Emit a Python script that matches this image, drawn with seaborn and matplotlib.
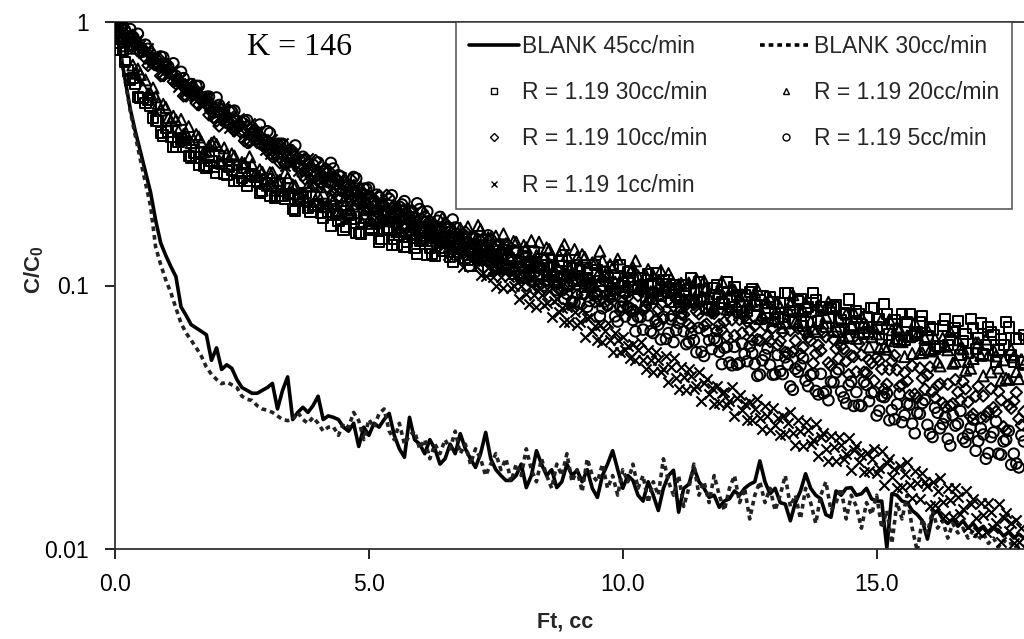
import numpy as np
import pandas as pd
import matplotlib
matplotlib.use("Agg")
import matplotlib.pyplot as plt
from matplotlib.lines import Line2D
from matplotlib.ticker import NullLocator, FixedLocator, FixedFormatter
import seaborn as sns

# ---------------- data ----------------
# Each "_a" list is read at Ft = 0.0, 0.1, 0.2 ...; each "_b" list at
# Ft = 0.05, 0.15, 0.25 ...; r1 is read every 0.05 from Ft = 0.
STEP = 0.1
HALF = 0.05

blank45 = [
    1.0, 0.776, 0.60, 0.468, 0.385, 0.323, 0.27, 0.226, 0.177, 0.145,
    0.13, 0.118, 0.108, 0.083, 0.077, 0.071, 0.069, 0.067, 0.065, 0.052,
    0.058, 0.048, 0.05, 0.0485, 0.044, 0.041, 0.040, 0.039, 0.039, 0.040,
    0.041, 0.0425, 0.034, 0.040, 0.045, 0.031, 0.033, 0.0345, 0.033, 0.035,
    0.038, 0.031, 0.032, 0.0316, 0.031, 0.029, 0.028, 0.030, 0.0245, 0.029,
    0.027, 0.030, 0.029, 0.031, 0.0327, 0.027, 0.024, 0.0223, 0.0316, 0.026,
    0.025, 0.023, 0.026, 0.024, 0.021, 0.022, 0.025, 0.023, 0.0274, 0.024,
    0.022, 0.0204, 0.023, 0.0277, 0.022, 0.020, 0.019, 0.0182, 0.0182, 0.019,
    0.021, 0.0171, 0.019, 0.0236, 0.021, 0.019, 0.020, 0.0171, 0.018, 0.021,
    0.019, 0.0199, 0.018, 0.020, 0.017, 0.0157, 0.019, 0.021, 0.0236, 0.020,
    0.017, 0.019, 0.0182, 0.016, 0.0152, 0.018, 0.016, 0.014, 0.017, 0.019,
    0.0199, 0.0138, 0.017, 0.0176, 0.0204, 0.018, 0.017, 0.0157, 0.016, 0.0144,
    0.0152, 0.0155, 0.0166, 0.016, 0.017, 0.0176, 0.018, 0.0216, 0.018, 0.0162,
    0.017, 0.015, 0.0148, 0.0128, 0.015, 0.0166, 0.0193, 0.017, 0.016, 0.0155,
    0.0135, 0.0132, 0.0166, 0.016, 0.017, 0.0171, 0.016, 0.0162, 0.017, 0.0155,
    0.0152, 0.0152, 0.0101, 0.0162, 0.016, 0.0152, 0.015, 0.014, 0.0135, 0.0128,
    0.0109, 0.0135, 0.014, 0.013, 0.0125, 0.013, 0.0122, 0.0128, 0.012, 0.0125,
    0.0118, 0.0122, 0.0115, 0.012, 0.0118, 0.0112, 0.0116, 0.011, 0.0114, 0.011,
]

blank30 = [
    1.0, 0.78, 0.60, 0.46, 0.37, 0.30, 0.245, 0.20, 0.14, 0.12,
    0.105, 0.094, 0.082, 0.072, 0.066, 0.062, 0.058, 0.054, 0.049, 0.046,
    0.044, 0.0424, 0.043, 0.042, 0.041, 0.038, 0.037, 0.0366, 0.035, 0.034,
    0.0336, 0.033, 0.032, 0.031, 0.0307, 0.031, 0.033, 0.031, 0.030, 0.0316,
    0.030, 0.028, 0.029, 0.0291, 0.027, 0.030, 0.029, 0.033, 0.0307, 0.026,
    0.031, 0.029, 0.0326, 0.034, 0.028, 0.026, 0.030, 0.025, 0.027, 0.028,
    0.024, 0.026, 0.022, 0.025, 0.023, 0.026, 0.024, 0.028, 0.023, 0.025,
    0.021, 0.024, 0.022, 0.019, 0.021, 0.023, 0.020, 0.022, 0.018, 0.021,
    0.019, 0.024, 0.020, 0.018, 0.022, 0.019, 0.017, 0.021, 0.019, 0.023,
    0.018, 0.020, 0.0165, 0.022, 0.019, 0.018, 0.021, 0.017, 0.019, 0.016,
    0.020, 0.018, 0.021, 0.017, 0.019, 0.015, 0.018, 0.016, 0.022, 0.018,
    0.016, 0.019, 0.0145, 0.017, 0.021, 0.016, 0.018, 0.015, 0.019, 0.016,
    0.014, 0.017, 0.019, 0.015, 0.017, 0.013, 0.016, 0.018, 0.015, 0.017,
    0.014, 0.016, 0.019, 0.0145, 0.016, 0.013, 0.017, 0.015, 0.0125, 0.016,
    0.018, 0.014, 0.015, 0.017, 0.013, 0.016, 0.0145, 0.012, 0.015, 0.0135,
    0.016, 0.012, 0.014, 0.0105, 0.015, 0.013, 0.016, 0.012, 0.0098, 0.013,
    0.0115, 0.014, 0.012, 0.0128, 0.011, 0.0125, 0.0115, 0.012, 0.011, 0.0118,
    0.0108, 0.0115, 0.0105, 0.011, 0.0102, 0.0108, 0.0104, 0.0106, 0.0101, 0.0103,
]

# R = 1.19, 30 cc/min (squares)
r30_a = [
    1.0, .787, .706, .605, .584, .513, .494, .482, .423, .381,
    .395, .366, .335, .358, .335, .306, .306, .321, .279, .297,
    .268, .290, .263, .274, .286, .256, .239, .264, .248, .228,
    .253, .239, .218, .219, .234, .195, .214, .216, .197, .201,
    .203, .181, .191, .201, .176, .163, .185, .173, .158, .180,
    .163, .178, .147, .164, .166, .150, .155, .140, .157, .139,
    .148, .158, .139, .129, .148, .139, .128, .146, .139, .127,
    .119, .135, .138, .125, .129, .116, .131, .116, .125, .134,
    .109, .128, .119, .109, .126, .120, .109, .112, .124, .101,
    .116, .119, .106, .112, .100, .114, .100, .108, .117, .101,
    .095, .112, .105, .097, .099, .110, .089, .101, .105, .094,
    .0977, .0865, .100, .0872, .0947, .103, .0887, .0812, .0976, .090,
    .0851, .088, .0988, .0792, .0916, .0943, .0843, .0884, .0784, .0902,
    .0782, .0861, .0939, .0799, .0727, .0886, .0814, .0727, .0882, .0828,
    .0695, .0815, .084, .0741, .0781, .0684, .0799, .0688, .0757, .0824,
    .0698, .0628, .0781, .0712, .0628, .0777, .0725, .0643, .0667, .0765,
    .064, .0681, .0589, .0701, .0596, .0664, .0731, .0614, .0554, .069,
    .063, .0551, .0697, .0648, .057, .0595, .0693, .0515, .0627, .0651,
]
r30_b = [
    .83, .786, .654, .614, .519, .514, .505, .431, .422, .371,
    .384, .335, .350, .362, .309, .318, .288, .285, .312, .282,
    .310, .265, .281, .250, .249, .279, .249, .259, .225, .244,
    .218, .215, .243, .214, .223, .192, .210, .225, .190, .202,
    .189, .198, .169, .186, .200, .167, .179, .158, .157, .181,
    .166, .181, .150, .163, .142, .142, .166, .146, .156, .132,
    .150, .131, .132, .154, .135, .145, .123, .138, .150, .125,
    .144, .126, .136, .114, .129, .142, .117, .127, .111, .112,
    .107, .121, .134, .110, .120, .104, .105, .124, .109, .117,
    .104, .114, .099, .100, .120, .104, .112, .093, .107, .119,
    .0947, .113, .0985, .1067, .0885, .1012, .1119, .0913, .1008, .0867,
    .1007, .083, .0962, .107, .0863, .0958, .0816, .0828, .1003, .0868,
    .1027, .083, .0922, .079, .0803, .0972, .084, .0912, .0751, .0868,
    .0745, .0757, .0935, .0796, .0872, .0703, .0827, .0934, .0735, .0825,
    .0756, .0828, .0667, .0784, .0885, .0696, .0781, .0656, .0665, .0821,
    .0743, .0848, .0652, .074, .061, .062, .0782, .0655, .0724, .0569,
    .0697, .0576, .0587, .0743, .0623, .0691, .0545, .0654, .0748, .0576,
    .0718, .0594, .0665, .0513, .0627, .0725, .0546, .0629, .051,
]

# R = 1.19, 20 cc/min (triangles)
r20_a = [
    1.0, .873, .812, .795, .639, .632, .603, .534, .520, .463,
    .474, .422, .424, .427, .378, .348, .374, .350, .323, .347,
    .343, .291, .315, .316, .289, .293, .267, .288, .259, .269,
    .240, .268, .250, .229, .256, .241, .222, .224, .240, .202,
    .221, .224, .204, .210, .191, .210, .189, .200, .211, .187,
    .176, .202, .192, .176, .179, .196, .162, .181, .184, .167,
    .173, .155, .173, .155, .165, .175, .154, .143, .165, .154,
    .145, .149, .163, .134, .151, .154, .139, .144, .130, .146,
    .129, .139, .148, .130, .119, .139, .130, .119, .137, .130,
    .112, .128, .131, .117, .122, .109, .124, .109, .117, .126,
    .109, .101, .117, .109, .098, .115, .109, .099, .100, .111,
    .0964, .1008, .0892, .1022, .0891, .0967, .1042, .0897, .0821, .0976,
    .090, .081, .0959, .0912, .0823, .0845, .0942, .0749, .086, .089,
    .0787, .0826, .072, .0848, .0727, .0796, .0862, .073, .0669, .081,
    .0765, .0829, .0701, .0634, .0778, .071, .063, .0759, .0707, .0639,
    .0655, .0747, .0573, .0679, .0696, .0612, .0644, .0552, .065, .0556,
    .0679, .0564, .0512, .0631, .057, .0507, .0622, .0574, .0514, .0528,
    .0606, .0454, .0545, .057, .0486, .0522, .044, .0536, .0443, .0502,
]
r20_b = [
    .884, .869, .848, .686, .663, .564, .534, .562, .491, .487,
    .432, .439, .386, .374, .401, .358, .366, .321, .338, .351,
    .298, .333, .298, .310, .268, .290, .308, .262, .275, .244,
    .268, .230, .251, .268, .225, .239, .211, .210, .238, .211,
    .237, .199, .214, .189, .189, .218, .193, .204, .175, .194,
    .172, .173, .202, .178, .189, .160, .180, .196, .163, .176,
    .164, .175, .148, .166, .181, .150, .163, .142, .143, .167,
    .154, .169, .139, .152, .132, .133, .157, .137, .147, .123,
    .142, .123, .124, .146, .127, .137, .115, .130, .143, .117,
    .137, .119, .128, .106, .122, .135, .110, .120, .103, .104,
    .0991, .113, .124, .101, .110, .0947, .0956, .114, .098, .106,
    .0923, .102, .087, .0878, .1058, .0911, .0985, .0808, .0931, .1035,
    .0814, .098, .0848, .0922, .0756, .087, .0967, .0775, .086, .0736,
    .0864, .0692, .0816, .0922, .0722, .0806, .0673, .0684, .0846, .072,
    .0864, .0676, .0754, .0634, .0644, .079, .0667, .0726, .0585, .0689,
    .0577, .0587, .0741, .0617, .0682, .0537, .0639, .0723, .0556, .0632,
    .0569, .0629, .0495, .0588, .067, .0515, .0579, .0477, .0485, .0606,
    .0543, .0626, .047, .054, .0437, .0444, .0572, .0471, .0525,
]

# R = 1.19, 10 cc/min (diamonds)
r10_a = [
    1.0, .99, .90, .82, .86, .80, .73, .71, .73, .625,
    .653, .642, .583, .580, .524, .546, .492, .502, .509, .456,
    .421, .465, .436, .397, .396, .420, .349, .379, .378, .340,
    .345, .308, .337, .297, .311, .325, .284, .261, .294, .271,
    .254, .255, .274, .226, .248, .248, .224, .228, .205, .224,
    .197, .209, .220, .192, .177, .201, .186, .169, .192, .181,
    .157, .174, .176, .158, .162, .145, .161, .143, .151, .160,
    .139, .128, .148, .137, .123, .143, .134, .121, .123, .135,
    .117, .121, .108, .121, .106, .113, .119, .104, .096, .111,
    .103, .092, .109, .101, .092, .094, .105, .084, .095, .097,
    .087, .0905, .0805, .0914, .0802, .0864, .0931, .0811, .0745, .0881,
    .0835, .0897, .0776, .0711, .0847, .078, .0703, .0834, .0784, .071,
    .0727, .0811, .0646, .0742, .0759, .0675, .0702, .0619, .0706, .0612,
    .0728, .0616, .0558, .0676, .0618, .0549, .0662, .0618, .0551, .0566,
    .0638, .0495, .0576, .059, .0516, .0541, .047, .0545, .0466, .0508,
    .0533, .0482, .0422, .0517, .0478, .042, .0434, .0496, .0375, .0445,
    .0457, .0396, .0417, .0358, .0422, .0356, .0394, .0432, .0361, .0325,
    .0414, .0381, .0332, .0344, .0396, .0291, .0352, .0364, .0312, .0332,
]
r10_b = [
    .995, .870, .836, .890, .784, .788, .684, .712, .732, .626,
    .666, .594, .603, .524, .546, .563, .485, .498, .444, .434,
    .403, .437, .463, .386, .405, .354, .350, .392, .345, .357,
    .316, .336, .292, .289, .328, .288, .300, .253, .278, .298,
    .244, .278, .243, .254, .215, .236, .253, .210, .224, .195,
    .217, .183, .203, .220, .180, .194, .168, .167, .193, .169,
    .191, .157, .169, .147, .147, .169, .148, .157, .132, .148,
    .129, .129, .151, .131, .139, .116, .131, .142, .116, .126,
    .116, .124, .103, .116, .126, .103, .111, .0963, .0966, .113,
    .104, .114, .0923, .1008, .0867, .0874, .1036, .0894, .0962, .0797,
    .0925, .0795, .0801, .0953, .0826, .0891, .0743, .0849, .0941, .0767,
    .0903, .0779, .0844, .0694, .0799, .0888, .0714, .0788, .0673, .0678,
    .0643, .0741, .0824, .0661, .0729, .062, .0623, .0748, .0641, .069,
    .0594, .0664, .0554, .056, .0688, .0582, .0634, .0507, .0594, .0666,
    .0509, .0625, .0528, .0575, .0459, .0537, .0601, .0469, .0522, .0435,
    .0518, .0404, .048, .0543, .0414, .0467, .0383, .0387, .0486, .0404,
    .049, .0375, .0423, .0346, .035, .0439, .0367, .0405, .0318, .038,
    .0314, .0318, .0406, .0332, .0368, .0281, .0342, .0393, .0295,
]

# R = 1.19, 5 cc/min (circles)
r5_a = [
    1.0, .92, .93, .94, .83, .77, .82, .76, .69, .74,
    .694, .640, .624, .647, .555, .581, .572, .519, .520, .472,
    .517, .453, .415, .458, .422, .383, .424, .397, .361, .360,
    .385, .316, .345, .345, .309, .314, .282, .308, .274, .287,
    .293, .271, .247, .278, .262, .240, .241, .258, .213, .233,
    .235, .210, .216, .192, .213, .188, .199, .209, .182, .168,
    .195, .182, .166, .167, .182, .148, .165, .166, .148, .152,
    .135, .151, .132, .140, .149, .129, .118, .136, .125, .113,
    .118, .129, .104, .117, .117, .105, .108, .096, .106, .093,
    .087, .101, .093, .083, .098, .091, .082, .084, .091, .073,
    .083, .083, .074, .076, .068, .077, .066, .071, .076, .066,
    .061, .072, .067, .061, .062, .069, .054, .062, .063, .056,
    .058, .051, .0585, .0508, .055, .0587, .0503, .0459, .0544, .050,
    .046, .0473, .0534, .0414, .0483, .0497, .0436, .0457, .0398, .0462,
    .0396, .0432, .0468, .0396, .0357, .0432, .0394, .0349, .042, .0391,
    .0321, .038, .039, .0337, .0354, .0303, .0356, .0299, .0329, .0358,
    .0296, .0266, .0329, .0298, .0262, .0322, .0299, .0263, .0272, .031,
    .0257, .0272, .0231, .0277, .023, .0256, .0281, .023, .0204, .0256,
]
r5_b = [
    .960, .968, .842, .879, .902, .773, .791, .700, .682, .735,
    .677, .697, .595, .612, .545, .532, .572, .512, .521, .454,
    .484, .421, .413, .461, .405, .420, .356, .386, .408, .341,
    .379, .330, .345, .290, .318, .340, .283, .301, .262, .260,
    .247, .272, .292, .243, .259, .226, .224, .255, .224, .233,
    .206, .221, .192, .191, .220, .192, .203, .170, .189, .205,
    .166, .191, .167, .176, .148, .164, .178, .146, .156, .135,
    .152, .127, .142, .155, .126, .136, .117, .116, .136, .118,
    .134, .109, .118, .101, .100, .117, .102, .107, .089, .0996,
    .0862, .086, .1014, .0874, .0935, .0766, .087, .0954, .0764, .0832,
    .0763, .0815, .067, .0758, .0835, .0671, .0729, .0624, .0627, .0744,
    .0677, .0749, .0599, .0658, .0558, .056, .067, .0574, .0617, .0503,
    .0585, .0498, .0501, .0603, .0516, .0554, .0454, .052, .0577, .0459,
    .0545, .0461, .0502, .0402, .0471, .053, .0415, .0463, .0386, .039,
    .0367, .0429, .0481, .0376, .0419, .0349, .0352, .0431, .0364, .0395,
    .0335, .0377, .0308, .0311, .0388, .0322, .0353, .0275, .0326, .0368,
    .0274, .0344, .0287, .0316, .0247, .0294, .0334, .0255, .0288, .0236,
    .0287, .022, .0266, .0305, .0228, .026, .0209, .0211, .027,
]

# R = 1.19, 1 cc/min (crosses), read every 0.05
r1 = [
    1.0, .939, .966, .991, .897, .841, .910, .856, .795, .859,
    .816, .761, .762, .800, .697, .742, .742, .685, .693, .639,
    .680, .622, .643, .664, .603, .568, .617, .582, .542, .588,
    .561, .525, .527, .554, .484, .516, .518, .479, .486, .449,
    .484, .435, .456, .480, .424, .397, .445, .418, .385, .432,
    .410, .378, .384, .414, .348, .382, .385, .352, .361, .327,
    .345, .315, .361, .341, .312, .317, .347, .285, .318, .322,
    .291, .300, .271, .302, .269, .286, .304, .267, .248, .284,
    .241, .270, .275, .248, .257, .231, .258, .229, .245, .259,
    .228, .211, .243, .226, .207, .238, .225, .205, .209, .229,
    .194, .208, .221, .194, .178, .207, .193, .175, .203, .191,
    .174, .178, .196, .160, .181, .184, .165, .171, .153, .172,
    .149, .173, .163, .149, .152, .167, .136, .153, .156, .140,
    .145, .130, .146, .129, .138, .147, .129, .118, .137, .128,
    .130, .132, .119, .123, .110, .124, .109, .117, .126, .108,
    .100, .117, .108, .098, .115, .108, .098, .100, .110, .089,
    .100, .107, .093, .085, .100, .092, .083, .098, .092, .084,
    .086, .095, .076, .087, .089, .079, .082, .073, .083, .073,
    .084, .079, .071, .073, .081, .064, .075, .076, .067, .070,
    .062, .071, .061, .067, .072, .062, .056, .066, .062, .056,
    .064, .057, .059, .053, .060, .052, .057, .061, .052, .048,
    .057, .052, .047, .056, .052, .047, .048, .054, .043, .049,
    .053, .0446, .0405, .0491, .045, .040, .0484, .0452, .0404, .0417,
    .047, .0366, .0428, .0441, .0388, .0408, .0356, .0416, .0357, .0392,
    .0395, .0353, .0365, .0412, .032, .0374, .0384, .0338, .0355, .031,
    .036, .031, .0341, .0371, .0315, .0286, .0348, .0319, .0284, .0344,
    .0296, .0314, .0271, .0321, .0272, .0301, .0331, .0276, .0248, .0308,
    .028, .0247, .0304, .0283, .025, .0259, .0297, .0225, .0267, .0275,
    .0239, .0215, .0268, .0244, .0215, .0266, .0248, .022, .0229, .0263,
    .020, .0238, .0246, .0214, .0227, .0196, .0232, .0197, .0219, .024,
    .0195, .0203, .0236, .0175, .0212, .0219, .0188, .0201, .0171, .0206,
    .0172, .0193, .0213, .0175, .0156, .0197, .0178, .0155, .0195, .018,
    .0174, .0146, .0179, .0147, .0166, .0186, .0151, .0133, .0171, .0154,
    .0132, .017, .0157, .0136, .0142, .0166, .0121, .0148, .0155, .0131,
    .0116, .015, .0135, .0116, .0149, .0138, .012, .0126, .0148, .0106,
    .0131, .0137, .0117, .0125, .0105, .0129, .0106, .012,
]

labels = ["BLANK 45cc/min", "BLANK 30cc/min", "R = 1.19 30cc/min",
          "R = 1.19 20cc/min", "R = 1.19 10cc/min", "R = 1.19 5cc/min",
          "R = 1.19 1cc/min"]
x_ticks = [0, 5, 10, 15]
x_tick_labels = ["0.0", "5.0", "10.0", "15.0"]
y_ticks = [0.01, 0.1, 1]
y_tick_labels = ["0.01", "0.1", "1"]


def frame(vals, step, start=0.0):
    ft = np.round(start + np.arange(len(vals)) * step, 3)
    return pd.DataFrame({"Ft": ft, "C": vals})


def two(a, b):
    return pd.concat([frame(a, STEP), frame(b, STEP, HALF)], ignore_index=True)


# ---------------- style ----------------
sns.set_theme(style="ticks")
plt.rcParams["font.family"] = ["Liberation Sans", "DejaVu Sans"]
plt.rcParams["mathtext.fontset"] = "custom"
plt.rcParams["mathtext.rm"] = "Liberation Sans"
plt.rcParams["mathtext.bf"] = "Liberation Sans:bold"

fig = plt.figure(figsize=(10.24, 6.39), dpi=100)
ax = fig.add_axes([115 / 1024, 90 / 639, 914 / 1024, 527 / 639])

DASH = (0, (1.3, 1.1))
sns.lineplot(data=frame(blank45, STEP), x="Ft", y="C", ax=ax,
             color="black", linewidth=2.6, estimator=None, sort=False, zorder=2)
sns.lineplot(data=frame(blank30, STEP), x="Ft", y="C", ax=ax,
             color="#222222", linewidth=2.6, linestyle=DASH, estimator=None,
             sort=False, zorder=2)

marker_series = [(two(r30_a, r30_b), "s", 54), (two(r20_a, r20_b), "^", 62),
                 (two(r10_a, r10_b), "D", 34), (two(r5_a, r5_b), "o", 58),
                 (frame(r1, HALF), "x", 54)]
for df, mk, size in marker_series:
    if mk == "x":
        sns.scatterplot(data=df, x="Ft", y="C", ax=ax, marker="x", s=size,
                        color="black", linewidth=1.5, zorder=3)
    else:
        sns.scatterplot(data=df, x="Ft", y="C", ax=ax, marker=mk, s=size,
                        color="black", linewidth=1.45, zorder=3)
        coll = ax.collections[-1]
        coll.set_facecolor("none")
        coll.set_edgecolor("black")

ax.set_yscale("log")
ax.set_xlim(0, 18)
ax.set_ylim(0.01, 1)
ax.xaxis.set_major_locator(FixedLocator(x_ticks))
ax.xaxis.set_major_formatter(FixedFormatter(x_tick_labels))
ax.yaxis.set_major_locator(FixedLocator(y_ticks))
ax.yaxis.set_major_formatter(FixedFormatter(y_tick_labels))
ax.yaxis.set_minor_locator(NullLocator())
ax.xaxis.set_minor_locator(NullLocator())
ax.tick_params(axis="both", direction="out", length=7, width=1.2,
               colors="black", labelsize=16.5)
ax.tick_params(axis="y", pad=12)
ax.tick_params(axis="x", pad=10)
for sp in ax.spines.values():
    sp.set_color("#333333")
    sp.set_linewidth(1.3)

ax.set_xlabel("Ft, cc", fontsize=15.5, fontweight="bold")
ax.set_ylabel(r"$\mathbf{C/C_0}$", fontsize=16)
ax.xaxis.set_label_coords(0.492, -0.118)
ax.yaxis.set_label_coords(-0.076, 0.53)

ax.text(2.6, 0.80, "K = 146", fontsize=23, family="Liberation Serif",
        va="center", ha="left", color="black")

# legend (row order as in the reference)
h = {
    "BLANK 45cc/min": Line2D([], [], color="black", lw=2.6),
    "BLANK 30cc/min": Line2D([], [], color="black", lw=2.6, linestyle=DASH),
    "R = 1.19 30cc/min": Line2D([], [], ls="none", marker="s", ms=5,
                                mfc="none", mec="black", mew=1),
    "R = 1.19 20cc/min": Line2D([], [], ls="none", marker="^", ms=5,
                                mfc="none", mec="black", mew=1),
    "R = 1.19 10cc/min": Line2D([], [], ls="none", marker="D", ms=4,
                                mfc="none", mec="black", mew=1),
    "R = 1.19 5cc/min": Line2D([], [], ls="none", marker="o", ms=5,
                               mfc="none", mec="black", mew=1),
    "R = 1.19 1cc/min": Line2D([], [], ls="none", marker="x", ms=5,
                               mec="black", mew=1),
}
order = [labels[0], labels[2], labels[4], labels[6], labels[1], labels[3], labels[5]]
leg = ax.legend([h[k] for k in order], order, ncol=2, loc="upper left",
                bbox_to_anchor=(0.373, 1.0), borderaxespad=0, fontsize=16.5,
                frameon=True, fancybox=False, edgecolor="#333333",
                handlelength=2.2, handletextpad=0.15, columnspacing=2.3,
                labelspacing=1.02, borderpad=0.55)
leg.get_frame().set_linewidth(1.2)
leg.set_zorder(5)

fig.savefig("out.png", dpi=100)
